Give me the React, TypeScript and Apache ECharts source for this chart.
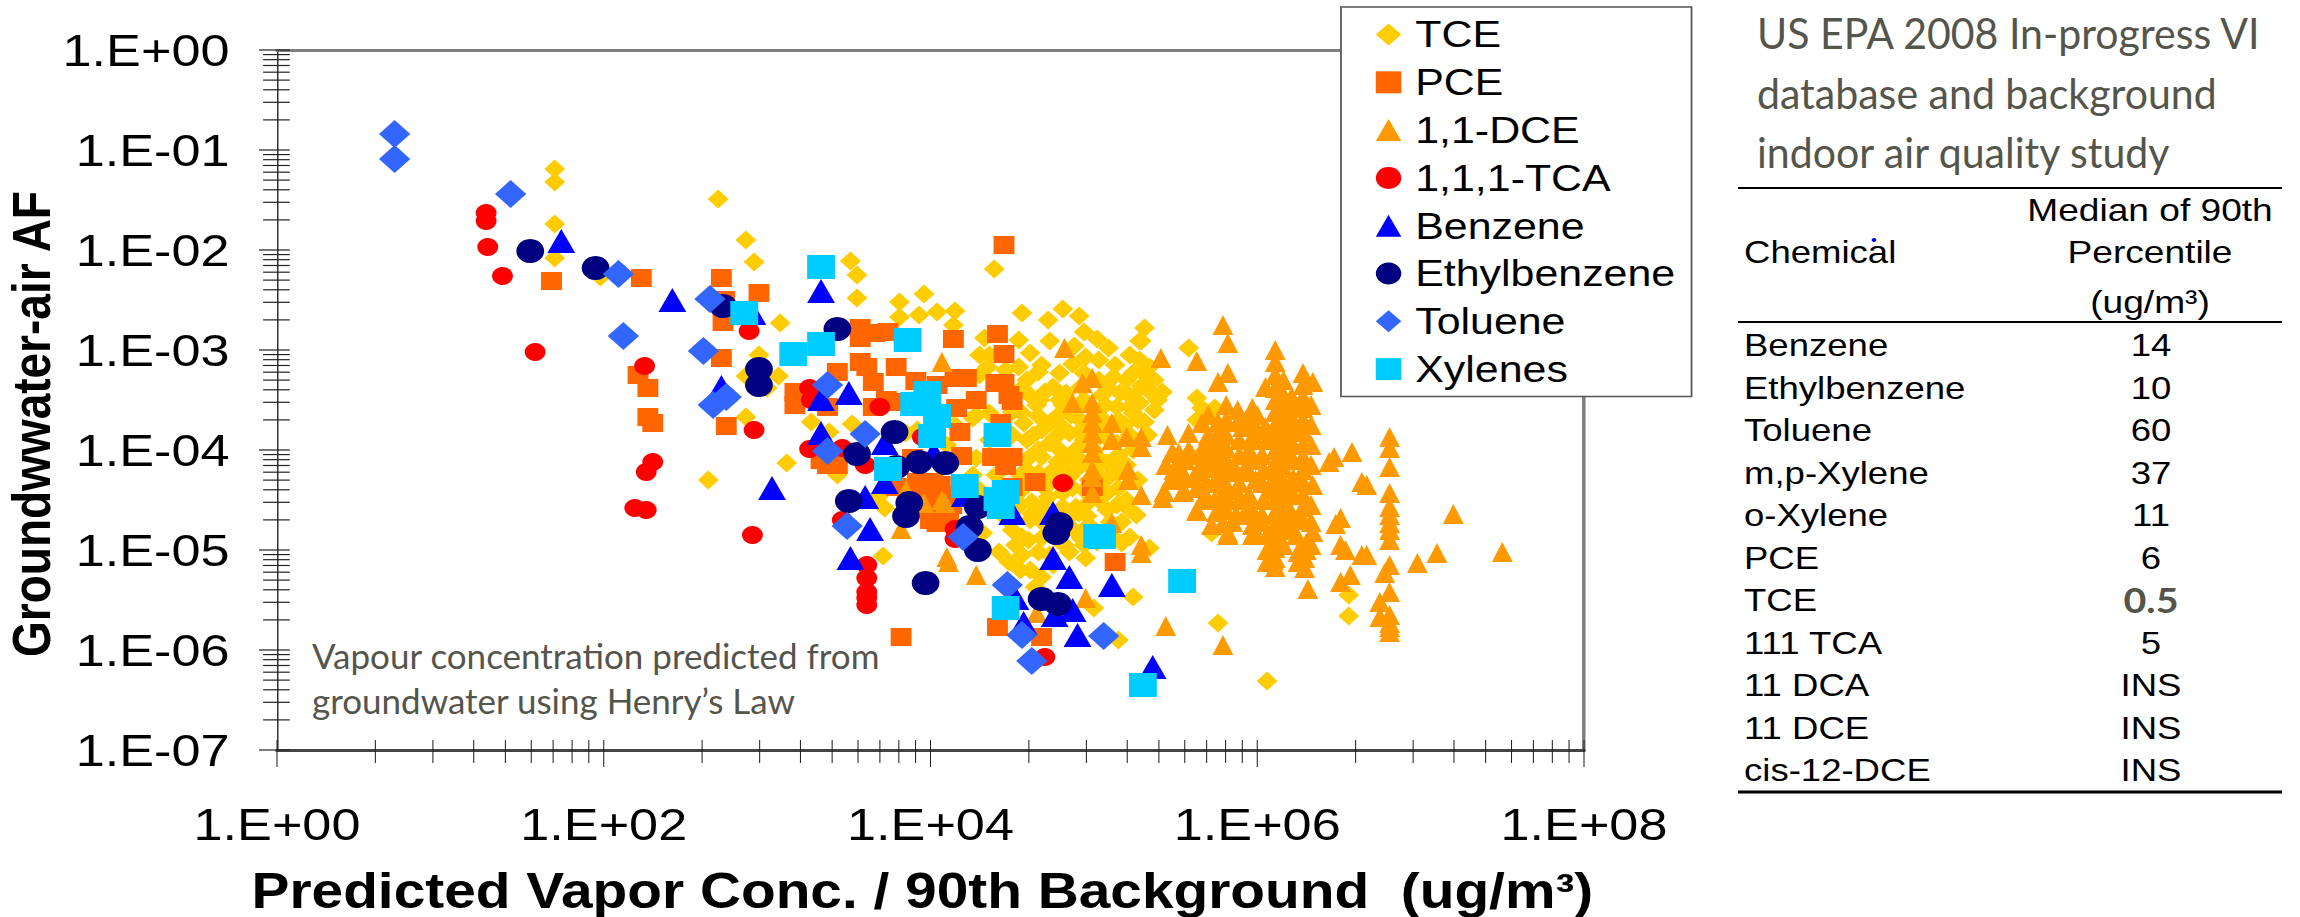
import React, { useEffect, useRef } from "react";
import * as echarts from "echarts";

// Each pair is [log10(x), log10(y)].
const tceLog: number[][] = [
  [1.70,-1.19],[1.70,-1.32],[1.70,-1.74],[1.70,-2.08],[1.98,-2.27],[2.70,-1.49],[2.87,-1.90],[2.92,-2.12],[3.08,-2.73],[2.95,-3.05],
  [2.87,-3.26],[3.07,-3.26],[3.00,-3.38],[2.87,-3.67],[3.12,-4.13],[2.64,-4.30],[3.51,-2.11],[3.55,-2.25],[3.55,-2.48],[4.39,-2.19],
  [3.27,-3.72],[3.38,-3.82],[3.52,-3.74],[3.43,-4.25],[3.68,-4.47],[3.72,-4.58],[3.71,-5.06],[3.85,-3.83],[3.91,-4.30],[4.26,-4.25],
  [4.32,-4.83],[4.26,-3.68],[4.36,-3.63],[4.28,-4.08],
  [3.81,-2.52],[3.96,-2.44],[3.81,-2.67],[3.93,-2.65],[4.04,-2.62],[4.15,-2.61],[4.14,-2.75],[4.56,-2.63],[4.72,-2.70],[4.81,-2.59],
  [4.91,-2.66],[4.94,-2.82],[4.73,-2.91],[4.33,-2.88],[4.54,-2.90],[5.02,-2.89],[5.09,-2.98],[4.88,-2.96],[4.95,-3.07],[5.31,-2.78],
  [5.28,-2.91],[5.22,-3.05],[4.61,-3.03],[4.36,-3.05],[4.68,-3.15],[4.35,-3.17],[4.54,-3.17],[4.79,-3.23],[4.94,-3.23],[5.24,-3.23],
  [5.09,-3.38],[4.75,-3.37],[4.56,-3.38],[4.59,-3.30],[4.83,-3.43],[4.65,-3.55],[5.33,-3.40],[5.20,-3.43],[4.56,-3.63],[4.73,-3.73],
  [4.86,-3.65],[4.57,-3.73],[5.24,-3.63],[4.77,-3.67],[4.68,-3.80],[4.85,-3.83],[4.59,-3.90],[4.73,-3.93],[4.68,-4.07],[4.85,-4.07],
  [4.59,-4.20],[4.75,-4.20],[4.62,-4.30],[4.89,-4.20],[4.72,-4.47],[4.62,-4.52],[4.81,-4.43],[5.14,-4.55],[5.26,-4.65],[5.17,-4.72],
  [4.81,-4.57],[4.89,-4.57],[4.85,-4.67],[4.91,-4.63],[4.50,-4.80],[4.56,-4.87],[4.42,-5.02],[4.56,-5.05],[4.48,-5.12],[4.61,-5.20],
  [4.68,-5.27],[4.95,-5.08],[5.17,-4.93],[5.22,-4.87],[5.24,-5.47],[4.64,-5.37],[5.34,-4.98],[5.72,-4.83],[5.15,-5.90],[5.76,-5.73],
  [6.06,-6.31],[6.56,-5.45],[6.56,-5.66],[6.20,-4.42],[5.29,-2.91],[5.28,-3.10],[5.30,-3.23],[5.20,-3.30],[5.39,-3.50],[5.27,-3.70],
  [5.58,-2.98],[5.63,-3.48],[5.66,-3.58],[5.63,-3.70],[5.74,-3.58],[6.59,-3.36],[5.08,-4.13],[5.09,-4.27],[5.08,-4.43],[5.14,-3.93],
  [5.14,-3.57],[5.16,-3.43],[5.24,-3.47],[5.22,-3.57],[5.63,-4.08],[5.69,-4.22],[6.20,-4.00],[5.00,-5.58],[4.67,-4.70],[4.73,-4.80],
  [4.82,-4.80],[4.88,-4.80],[4.97,-4.75],[5.00,-4.20],[5.00,-4.00],[5.00,-3.80],[5.00,-3.60],[5.03,-3.30],[4.79,-4.00],[4.67,-3.50],
  [4.94,-3.50],[4.94,-3.90],[5.09,-3.90],[4.82,-4.95],[4.94,-4.95],[4.73,-5.05],[4.61,-4.70],[4.73,-4.30],[4.82,-4.20],[4.79,-3.50],
  [5.03,-3.10],[5.13,-3.15],[5.19,-3.75],[5.03,-4.50],[4.94,-4.40],
  [4.66,-3.22],[4.87,-3.14],[5.12,-3.27],[5.34,-3.17],[5.37,-3.30],[4.70,-3.42],[4.92,-3.37],[5.05,-3.45],[5.29,-3.36],[5.42,-3.42],
  [4.62,-3.47],[4.81,-3.55],[4.90,-3.58],[5.07,-3.55],[5.28,-3.53],[5.37,-3.60],[4.66,-3.66],[4.80,-3.76],[4.93,-3.72],[5.06,-3.70],
  [5.15,-3.70],[5.31,-3.72],[4.63,-3.85],[4.76,-3.88],[4.91,-3.82],[5.04,-3.86],[5.22,-3.85],[5.33,-3.85],[4.66,-4.00],[4.90,-3.98],
  [5.03,-4.08],[5.15,-4.05],[5.24,-4.00],[4.60,-4.08],[4.78,-4.12],[4.93,-4.12],[5.06,-4.30],[5.14,-4.22],[5.20,-4.15],[5.27,-4.30],
  [4.66,-4.23],[4.85,-4.27],[4.97,-4.30],[5.15,-4.38],[4.56,-4.40],[4.70,-4.38],[4.87,-4.38],[5.05,-4.45],[5.20,-4.50],[4.55,-4.55],
  [4.68,-4.58],[4.97,-4.52],[5.08,-4.60],[5.22,-4.60],[4.62,-4.64],[4.75,-4.70],[4.96,-4.66],[5.10,-4.72],[5.00,-4.80],[4.92,-4.88],
  [4.68,-4.88],[4.78,-4.90],[5.02,-4.92],[5.10,-4.85],[4.60,-4.90],[4.52,-4.95],[4.66,-5.02],[4.85,-5.02],[4.55,-5.20],[4.75,-5.15],
  [4.40,-4.55],[4.46,-4.68],[4.30,-3.05],[4.30,-3.25],[4.28,-3.65],[4.36,-3.90],[4.46,-3.20],[4.50,-3.62],[4.50,-3.85],[4.40,-4.25],
  [4.55,-4.25],[4.30,-4.40],[4.15,-3.75],[4.10,-3.95],[3.92,-3.80],[4.05,-4.30],
];
const pceLog: number[][] = [
  [1.68,-2.31],[2.23,-2.28],[2.72,-2.28],[2.95,-2.43],[2.74,-2.50],[2.73,-2.72],[2.72,-3.08],[2.21,-3.25],[2.27,-3.38],[2.27,-3.67],
  [2.30,-3.73],[2.75,-3.76],[3.43,-3.22],[3.17,-3.42],[3.17,-3.55],[3.37,-3.57],[3.57,-2.78],[3.57,-2.88],[3.66,-2.83],[3.74,-2.82],
  [3.57,-3.12],[3.61,-3.17],[3.65,-3.32],[3.79,-3.17],[3.91,-3.31],[4.04,-3.35],[4.15,-3.28],[4.22,-3.28],[4.14,-2.89],[4.41,-2.84],
  [4.45,-3.04],[4.45,-1.95],[4.28,-3.50],[4.40,-3.33],[4.45,-3.33],[4.48,-3.45],[4.50,-3.51],[4.16,-3.58],[4.18,-3.82],[4.43,-3.73],
  [4.19,-4.06],[4.38,-4.07],[4.50,-4.07],[4.46,-4.16],[4.64,-4.32],[4.50,-4.37],[4.01,-4.32],[3.93,-4.38],[4.09,-4.47],[4.01,-4.50],
  [4.04,-4.63],[4.04,-4.73],[3.73,-3.50],[3.65,-3.57],[3.76,-3.52],[3.89,-4.08],[4.99,-4.37],[5.13,-5.12],[3.33,-4.10],[3.37,-4.15],
  [3.43,-4.15],[3.79,-4.37],[3.82,-5.87],[4.41,-5.77],[4.68,-5.87],[3.97,-4.48],[4.11,-4.62],
  [3.92,-4.32],[3.98,-4.40],[4.06,-4.35],[4.12,-4.45],[3.94,-4.55],[4.02,-4.42],[4.13,-4.55],[4.08,-4.70],[4.00,-4.70],
];
const dceLog: number[][] = [
  [5.79,-2.75],[5.82,-2.93],[5.41,-3.08],[5.63,-3.11],[5.82,-3.23],[5.76,-3.32],
  [6.11,-3.00],[6.11,-3.12],[6.11,-3.25],[6.11,-3.38],[6.11,-3.50],[6.11,-3.62],[6.11,-3.75],[6.11,-3.87],[6.11,-4.00],[6.11,-4.12],
  [6.11,-4.25],[6.11,-4.37],[6.11,-4.50],[6.11,-4.62],[6.11,-4.75],[6.11,-4.87],[6.11,-4.98],[6.11,-5.08],[6.11,-5.17],
  [6.28,-3.23],[6.28,-3.35],[6.28,-3.47],[6.28,-3.58],[6.28,-3.70],[6.28,-3.82],[6.28,-3.95],[6.28,-4.07],[6.28,-4.20],[6.28,-4.32],
  [6.28,-4.45],[6.28,-4.57],[6.28,-4.70],[6.34,-4.82],[6.30,-4.93],[6.30,-5.00],[6.29,-5.08],[6.29,-5.18],
  [5.81,-3.55],[5.81,-3.70],[5.81,-3.85],[5.81,-3.98],[5.81,-4.10],[5.81,-4.22],[5.81,-4.35],[5.81,-4.47],[5.81,-4.60],[5.79,-4.73],[5.82,-4.85],
  [6.05,-3.37],[5.97,-3.58],[5.99,-3.77],[6.05,-3.77],[5.99,-3.90],[6.21,-3.47],[6.21,-3.67],
  [5.45,-3.85],[5.52,-4.03],[5.58,-3.83],[5.66,-3.73],[5.75,-3.90],[5.91,-3.77],[5.97,-3.87],[5.44,-4.15],[5.51,-4.30],[5.43,-4.42],
  [5.55,-4.40],[5.66,-4.17],[5.63,-4.60],[5.69,-4.33],[5.77,-4.33],[5.93,-4.17],[5.89,-4.33],[5.93,-4.65],[5.99,-4.30],[6.03,-4.33],
  [5.99,-4.85],[6.12,-4.87],[5.11,-3.73],[5.11,-3.90],[5.20,-3.87],[5.29,-3.87],[5.29,-3.97],[5.21,-4.20],[5.21,-4.30],[5.29,-4.45],
  [5.29,-4.95],[5.29,-5.03],[5.11,-4.73],[4.82,-2.98],[4.93,-3.33],[4.99,-3.28],[4.87,-3.53],[4.99,-3.53],[4.99,-3.63],[4.99,-3.73],
  [4.99,-3.83],[4.99,-3.93],[4.99,-4.03],[4.99,-4.20],[4.99,-4.27],[4.99,-4.43],[4.07,-3.12],[4.07,-4.50],[4.09,-4.53],[3.85,-4.40],
  [3.96,-4.53],[3.82,-4.79],[4.10,-5.07],[4.11,-5.12],[4.28,-5.25],[4.95,-5.48],[5.44,-5.76],[5.79,-5.95],[5.63,-4.61],[5.43,-4.42],
  [5.55,-4.42],[5.82,-4.83],[5.97,-4.85],[5.93,-4.65],[6.51,-4.68],[6.48,-4.74],[6.81,-4.43],[6.81,-4.57],[6.81,-4.65],[6.81,-4.73],
  [6.81,-4.80],[6.81,-4.90],[7.20,-4.64],[6.51,-4.95],[6.54,-5.00],[6.64,-5.05],[6.67,-5.05],[7.10,-5.03],[6.98,-5.13],[7.50,-5.02],
  [6.81,-5.15],[6.78,-5.23],[6.57,-5.25],[6.51,-5.32],[6.81,-5.42],[6.75,-5.52],[6.81,-5.65],[6.75,-5.67],[6.81,-5.73],[6.81,-5.77],
  [6.81,-5.82],[6.31,-5.39],[6.34,-4.82],[6.10,-5.10],[6.13,-4.90],[6.81,-3.87],[6.81,-3.98],[6.81,-4.17],[6.47,-4.07],[6.44,-4.12],
  [6.58,-4.02],[6.64,-4.32],[6.67,-4.35],[5.89,-3.90],[5.89,-4.05],[5.97,-4.10],[6.04,-4.20],[5.89,-4.50],[5.97,-4.60],[6.04,-4.50],
  [5.97,-4.75],[6.20,-3.90],[6.20,-4.10],[6.20,-4.40],[6.20,-4.60],[6.20,-4.80],[5.74,-4.05],[5.66,-4.00],[5.58,-4.00],[5.49,-4.20],
  [5.61,-4.28],[5.74,-4.50],[5.68,-4.45],[4.65,-5.63],
  [5.70,-3.65],[5.70,-3.85],[5.70,-3.95],[5.76,-3.72],[5.76,-3.82],[5.88,-3.60],[5.88,-3.72],[5.93,-3.70],[6.00,-3.65],[6.00,-3.80],
  [6.06,-3.90],[6.16,-3.30],[6.16,-3.45],[6.16,-3.60],[6.16,-3.72],[6.16,-3.88],[6.16,-4.02],[6.16,-4.18],[6.16,-4.32],[6.16,-4.48],
  [6.16,-4.65],[6.16,-4.80],[6.22,-3.55],[6.22,-3.78],[6.22,-3.95],[6.22,-4.10],[6.22,-4.28],[6.22,-4.45],[6.22,-4.68],[6.34,-3.32],
  [6.33,-3.55],[6.33,-3.75],[6.33,-3.95],[6.33,-4.15],[6.34,-4.35],[6.33,-4.55],[6.33,-4.72],[6.33,-4.95],[5.70,-4.12],[5.75,-4.18],
  [5.63,-4.22],[5.63,-4.38],[5.60,-4.05],[5.52,-4.15],[5.70,-4.50],[5.75,-4.62],[5.81,-4.40],[5.76,-4.05],[5.87,-4.20],[5.87,-4.40],
  [5.87,-4.65],[5.95,-4.00],[5.95,-4.22],[5.95,-4.45],[5.95,-4.55],[6.03,-4.05],[6.03,-4.65],[6.03,-4.72],[6.06,-4.85],[6.06,-5.00],
  [6.06,-5.12],[6.16,-4.95],[6.25,-5.02],[6.25,-5.12],[6.07,-4.40],[6.13,-4.60],[6.13,-4.15],[5.56,-4.10],[5.48,-4.02],[5.47,-4.30],
  [5.42,-4.48],[5.55,-4.25],[5.72,-4.75],[5.85,-4.72],[5.76,-4.25],[6.24,-4.85],
];
const tcaLog: number[][] = [
  [1.28,-1.63],[1.28,-1.71],[1.29,-1.97],[1.38,-2.26],[1.58,-3.02],[2.25,-3.16],[2.89,-2.81],[2.92,-3.80],[2.30,-4.12],[2.26,-4.22],
  [2.19,-4.58],[2.26,-4.60],[2.91,-4.85],[3.26,-3.38],[3.27,-3.50],[3.69,-3.57],[3.26,-3.99],[3.46,-3.98],[3.60,-4.15],[4.81,-4.33],
  [3.95,-3.87],[3.46,-4.70],[3.61,-5.15],[3.61,-5.28],[3.61,-5.42],[3.61,-5.48],[3.61,-5.55],[4.15,-4.79],[4.15,-4.89],[4.70,-6.07],
];
const benzeneLog: number[][] = [
  [1.74,-1.91],[2.42,-2.50],[2.91,-2.63],[3.33,-2.41],[2.72,-3.37],[3.33,-3.49],[3.50,-3.43],[3.33,-3.83],[3.72,-3.93],[4.02,-4.03],
  [3.72,-4.32],[3.03,-4.38],[3.60,-4.47],[3.63,-4.79],[3.51,-5.08],[4.21,-4.45],[4.50,-4.63],[4.75,-4.63],[4.75,-5.08],[4.85,-5.27],
  [5.11,-5.35],[4.52,-5.48],[4.87,-5.60],[4.76,-5.65],[4.57,-5.73],[4.90,-5.85],[5.36,-6.17],
];
const ethylbenzeneLog: number[][] = [
  [1.55,-2.01],[1.95,-2.18],[2.73,-2.56],[2.95,-3.19],[2.95,-3.35],[3.43,-2.79],[3.78,-3.82],[3.55,-4.04],[3.93,-4.12],[4.09,-4.13],
  [3.79,-4.17],[3.50,-4.51],[3.87,-4.53],[3.85,-4.66],[4.29,-4.57],[4.24,-4.77],[4.29,-5.00],[4.79,-4.74],[4.77,-4.83],[3.97,-5.33],
  [4.68,-5.49],[4.78,-5.54],
];
const tolueneLog: number[][] = [
  [0.72,-0.84],[0.72,-1.09],[1.43,-1.44],[2.09,-2.24],[2.65,-2.49],[2.12,-2.86],[2.61,-3.01],[2.75,-3.47],[2.67,-3.55],[3.37,-3.35],
  [3.60,-3.84],[3.37,-4.01],[3.49,-4.76],[4.20,-4.87],[4.47,-5.35],[4.56,-5.85],[4.62,-6.11],[5.06,-5.86],
];
const xylenesLog: number[][] = [
  [2.86,-2.63],[3.33,-2.17],[3.16,-3.04],[3.33,-2.94],[3.86,-2.90],[3.98,-3.43],[3.90,-3.54],[4.04,-3.66],[4.01,-3.86],[4.41,-3.85],
  [3.74,-4.19],[4.21,-4.36],[4.46,-4.42],[4.41,-4.49],[4.43,-4.57],[5.02,-4.86],[5.05,-4.87],[5.54,-5.31],[4.46,-5.58],[5.30,-6.35],
];

const seriesNames = ["TCE", "PCE", "1,1-DCE", "1,1,1-TCA", "Benzene", "Ethylbenzene", "Toluene", "Xylenes"];
const seriesColors = ["#FFCC00", "#FF6600", "#FF9900", "#FF0000", "#0000FF", "#000080", "#3366FF", "#00CCFF"];
const seriesSymbols = ["diamond", "rect", "triangle", "circle", "triangle", "circle", "diamond", "rect"];
const seriesSizes = [[18, 19], [18, 18], [18, 20], [18, 18], [24, 24], [24, 24], [27, 28], [24, 24]];
const seriesLogData = [tceLog, pceLog, dceLog, tcaLog, benzeneLog, ethylbenzeneLog, tolueneLog, xylenesLog];

const tableChemicals = ["Benzene", "Ethylbenzene", "Toluene", "m,p-Xylene", "o-Xylene", "PCE", "TCE", "111 TCA", "11 DCA", "11 DCE", "cis-12-DCE"];
const tableMedians = ["14", "10", "60", "37", "11", "6", "0.5", "5", "INS", "INS", "INS"];
const titleLines = ["US EPA 2008 In-progress VI", "database and background", "indoor air quality study"];
const noteLines = ["Vapour concentration predicted from", "groundwater using Henry\u2019s Law"];

// The reference is a picture stretched sideways: the whole chart is drawn narrower and widened.
const FRAME_W = 1983;
const FRAME_H = 917;
const STRETCH = 2300 / FRAME_W;
const px = (full: number) => full / STRETCH;

const ARIAL = "'Liberation Sans', Arial, sans-serif";
const CALIBRI = "Lato, sans-serif";
const NOTE_COLOR = "#54554B";

const expLabel = (v: number) => {
  const e = Math.round(Math.log10(v));
  return `1.E${e < 0 ? "-" : "+"}${String(Math.abs(e)).padStart(2, "0")}`;
};

function buildTicks() {
  const yTicks: number[][] = [];
  for (let e = -7; e <= 0; e++) {
    yTicks.push([1, Math.pow(10, e), 1]);
    if (e < 0) for (let k = 2; k <= 9; k++) yTicks.push([1, k * Math.pow(10, e), 0]);
  }
  const xTicks: number[][] = [];
  for (let n = 0; n <= 4; n++) {
    xTicks.push([Math.pow(100, n), 1e-7, 1]);
    if (n < 4) for (let k = 2; k <= 9; k++) xTicks.push([k * k * Math.pow(100, n), 1e-7, 0]);
  }
  return { yTicks, xTicks };
}

function textEl(text: string, fullX: number, y: number, o: any = {}) {
  return {
    type: "text",
    x: px(fullX),
    y,
    scaleX: o.scaleX ?? 1,
    z: 20,
    style: {
      text,
      fontSize: o.size ?? 31.5,
      fontFamily: o.family ?? ARIAL,
      fontWeight: o.weight ?? "normal",
      fill: o.fill ?? "#000",
      align: o.align ?? "left",
      textAlign: o.align ?? "left",
      verticalAlign: "middle",
      textVerticalAlign: "middle",
    },
  };
}

function ruleEl(x1: number, x2: number, y: number, w: number) {
  return {
    type: "line",
    z: 20,
    shape: { x1: px(x1), y1: y, x2: px(x2), y2: y },
    style: { stroke: "#000", lineWidth: w },
  };
}

export default function App() {
  const ref = useRef<HTMLDivElement>(null);
  useEffect(() => {
    if (!ref.current) return;
    const chart = echarts.init(ref.current, undefined, { renderer: "svg", width: FRAME_W, height: FRAME_H });
    const { yTicks, xTicks } = buildTicks();

    const marks = seriesNames.map((name, i) => ({
      name,
      type: "scatter",
      symbol: seriesSymbols[i],
      symbolSize: seriesSizes[i],
      itemStyle: { color: seriesColors[i], opacity: 1 },
      data: seriesLogData[i].map(([a, b]) => [Math.pow(10, a), Math.pow(10, b)]),
      z: 2 + i,
    }));

    const yTickSeries = {
      type: "custom",
      silent: true,
      clip: false,
      z: 1,
      data: yTicks,
      encode: { x: 0, y: 1 },
      renderItem: (_: any, api: any) => {
        const p = api.coord([api.value(0), api.value(1)]);
        const out = api.value(2) ? 15.5 : 12;
        return { type: "line", shape: { x1: p[0] - out, y1: p[1], x2: p[0] + 11, y2: p[1] }, style: { stroke: "#222", lineWidth: 1.2 } };
      },
    };
    const xTickSeries = {
      type: "custom",
      silent: true,
      clip: false,
      z: 1,
      data: xTicks,
      encode: { x: 0, y: 1 },
      renderItem: (_: any, api: any) => {
        const p = api.coord([api.value(0), api.value(1)]);
        return { type: "line", shape: { x1: p[0], y1: p[1] - 10, x2: p[0], y2: p[1] + (api.value(2) ? 17 : 13) }, style: { stroke: "#222", lineWidth: 0.9 } };
      },
    };

    const graphics: any[] = [
      ...titleLines.map((t, i) => textEl(t, 1757, 33 + i * 59.5, { size: 42, family: CALIBRI, fill: NOTE_COLOR, scaleX: 0.978 / STRETCH })),
      ...noteLines.map((t, i) => textEl(t, 312, 655 + i * 45, { size: 35, family: CALIBRI, fill: NOTE_COLOR, scaleX: 1 / STRETCH })),
      ruleEl(1738, 2282, 188, 2),
      ruleEl(1738, 2282, 322, 2),
      ruleEl(1738, 2282, 792, 3),
      textEl("Chemical", 1744, 252),
      textEl("Median of 90th", 2150, 210, { align: "center", size: 32 }),
      textEl("Percentile", 2150, 252, { align: "center", size: 32 }),
      textEl("(ug/m\u00B3)", 2150, 302, { align: "center", size: 32 }),
      { type: "circle", z: 21, shape: { cx: px(1874), cy: 240, r: 2 }, style: { fill: "#0000FF" } },
      ...tableChemicals.map((t, i) => textEl(t, 1744, 345 + i * 42.5)),
      ...tableMedians.map((t, i) =>
        t === "0.5"
          ? textEl(t, 2151, 345 + i * 42.5, { align: "center", family: CALIBRI, weight: "bold", fill: NOTE_COLOR, size: 34 })
          : textEl(t, 2151, 345 + i * 42.5, { align: "center" })
      ),
    ];

    chart.setOption({
      animation: false,
      backgroundColor: "#fff",
      grid: { left: px(277), top: 50, width: px(1584) - px(277), height: 700, containLabel: false, show: false, outerBoundsMode: "none" },
      legend: {
        data: seriesNames,
        orient: "vertical",
        left: px(1341),
        top: 7,
        z: 10,
        align: "left",
        backgroundColor: "#fff",
        borderColor: "#555",
        borderWidth: 1.5,
        borderRadius: 0,
        padding: [9, 14, 9, 30],
        itemWidth: 22,
        itemHeight: 22,
        itemGap: 10.8,
        textStyle: { fontSize: 37, fontFamily: ARIAL, color: "#000", padding: [0, 0, 0, 7] },
      },
      xAxis: [
        {
          type: "log",
          logBase: 100,
          min: 1,
          max: 1e8,
          axisLine: { lineStyle: { color: "#444", width: 3 } },
          axisTick: { show: false },
          splitLine: { show: false },
          minorTick: { show: false },
          axisLabel: { fontSize: 45, fontFamily: ARIAL, color: "#000", margin: 52, formatter: expLabel },
          name: "Predicted Vapor Conc. / 90th Background  (ug/m\u00B3)",
          nameLocation: "middle",
          nameGap: 116,
          nameMoveOverlap: false,
          nameTextStyle: { fontSize: 49, fontWeight: "bold", fontFamily: ARIAL, color: "#000", padding: [0, 14, 0, 0] },
        },
        {
          type: "value",
          position: "top",
          min: 0,
          max: 1,
          axisLine: { show: true, lineStyle: { color: "#808080", width: 3 } },
          axisTick: { show: false },
          axisLabel: { show: false },
          splitLine: { show: false },
        },
      ],
      yAxis: [
        {
          type: "log",
          logBase: 10,
          min: 1e-7,
          max: 1,
          axisLine: { lineStyle: { color: "#222", width: 1.2 } },
          axisTick: { show: false },
          splitLine: { show: false },
          minorTick: { show: false },
          axisLabel: { fontSize: 45, fontFamily: ARIAL, color: "#000", margin: 41, formatter: expLabel },
          name: "Groundwwater-air AF",
          nameLocation: "middle",
          nameGap: 188,
          nameMoveOverlap: false,
          nameTextStyle: { fontSize: 46, fontWeight: "bold", fontFamily: ARIAL, color: "#000", padding: [0, 48, 0, 0] },
        },
        {
          type: "value",
          position: "right",
          min: 0,
          max: 1,
          axisLine: { show: true, lineStyle: { color: "#808080", width: 3 } },
          axisTick: { show: false },
          axisLabel: { show: false },
          splitLine: { show: false },
        },
      ],
      graphic: graphics,
      series: [yTickSeries, xTickSeries, ...marks],
    });
    return () => chart.dispose();
  }, []);
  return (
    <div
      ref={ref}
      style={{
        position: "fixed",
        left: 0,
        top: 0,
        width: FRAME_W,
        height: FRAME_H,
        background: "#fff",
        transform: `scaleX(${STRETCH})`,
        transformOrigin: "0 0",
      }}
    />
  );
}
